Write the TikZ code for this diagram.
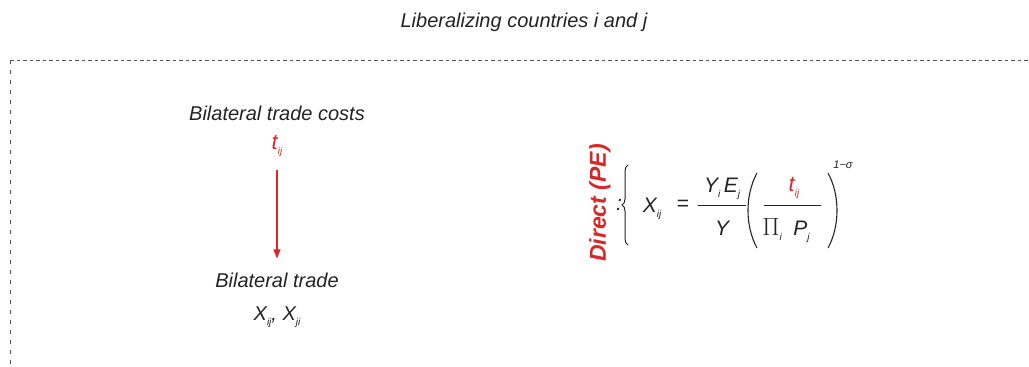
\documentclass[tikz,border=0pt]{standalone}
\usepackage{fontspec}
\setmainfont{Liberation Sans}
\usetikzlibrary{arrows.meta,decorations.pathreplacing}
\definecolor{tred}{RGB}{214,40,40}
\definecolor{tgray}{RGB}{35,35,35}
\definecolor{lgray}{RGB}{85,85,85}
\newcommand{\lsub}[1]{\raisebox{-5pt}{\fontsize{10}{10}\selectfont #1}}
\begin{document}
\begin{tikzpicture}[x=1pt,y=-1pt,
  lbl/.style={inner sep=0pt, text=tgray, font=\fontsize{20}{24}\selectfont\itshape},
  eq/.style={inner sep=0pt, text=tgray, font=\fontsize{21}{24}\selectfont\itshape},
  redtxt/.style={text=tred, font=\fontsize{22}{24}\selectfont\itshape},
  frame/.style={draw=lgray, line width=0.9pt},
  fracline/.style={draw=tgray, line width=0.8pt},
  paren/.style={draw=tgray, line width=1.1pt},
  redarrow/.style={draw=tred, line width=1.1pt, -{Triangle[length=9pt,width=7pt]}}]
\useasboundingbox (0,0) rectangle (1029,367);
% title and frame
\node[lbl] (title) at (524,22) {Liberalizing countries i and j};
\coordinate (fc) at (10,60);
\coordinate (fr) at (1029,60);
\coordinate (fb) at (10,367);
\draw[frame, dash pattern=on 3.5pt off 3pt] (fc) -- (fr);
\draw[frame, dash pattern=on 4pt off 6pt] (fc) -- (fb);
% left chain
\node[lbl] (btc) at (277,113) {Bilateral trade costs};
\node[lbl, redtxt] (t) at (277,146) {t\lsub{ij}};
\node[lbl] (bt) at (277,280) {Bilateral trade};
\node[lbl] (x) at (277,317) {X\lsub{ij}, X\lsub{ji}};
\draw[redarrow, shorten <=13pt, shorten >=14pt] (t) -- (bt);
% equation
\node[inner sep=0pt, text=tred, rotate=90, font=\fontsize{23}{24}\selectfont\bfseries\itshape] (pe) at (600,203) {Direct (PE)};
\node[eq] (colon) at (619,205) {:};
\coordinate (b1) at (628,245);
\coordinate (b2) at (628,165);
\draw[paren, line width=1pt, decorate, decoration={brace, amplitude=6pt}] (b1) -- (b2);
\node[eq] (xij) at (652,209) {X\lsub{ij}};
\node[eq, font=\fontsize{21}{24}\selectfont] (eqs) at (683,205) {=};
\node[eq] (num1) at (722,189) {Y\lsub{i}\,E\lsub{j}};
\node[eq] (den1) at (722,228) {Y};
\coordinate (f1a) at (698,205);
\coordinate (f1b) at (746,205);
\draw[fracline] (f1a) -- (f1b);
\coordinate (p1a) at (757,173);
\coordinate (p1b) at (757,248);
\draw[paren] (p1a) .. controls (745,195) and (745,226) .. (p1b);
\node[eq, redtxt] (num2) at (794,188) {t\lsub{ij}};
\node[eq] (den2) at (786,231) {{\fontsize{25}{25}\selectfont$\Pi$}\lsub{i}\ \ P\lsub{j}};
\coordinate (f2a) at (764,205);
\coordinate (f2b) at (821,205);
\draw[fracline] (f2a) -- (f2b);
\coordinate (p2a) at (828,173);
\coordinate (p2b) at (828,248);
\draw[paren] (p2a) .. controls (840,195) and (840,226) .. (p2b);
\node[inner sep=0pt, text=tgray, font=\fontsize{11}{12}\selectfont\itshape] (exp) at (843,165) {1−σ};
\end{tikzpicture}
\end{document}
